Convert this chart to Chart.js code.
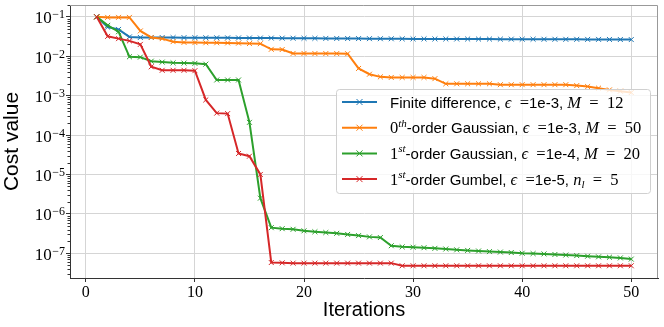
<!DOCTYPE html>
<html>
<head>
<meta charset="utf-8">
<title>Cost value vs iterations</title>
<script src="https://cdn.jsdelivr.net/npm/chart.js@4.4.1/dist/chart.umd.min.js"></script>
<style>
  html, body { margin: 0; padding: 0; background: #fff; }
  canvas { display: block; }
</style>
</head>
<body>
<canvas id="costChart" width="664" height="327"></canvas>
<script>
'use strict';

// values (log scale)
const iterations = [1,2,3,4,5,6,7,8,9,10,11,12,13,14,15,16,17,18,19,20,21,22,23,24,25,
  26,27,28,29,30,31,32,33,34,35,36,37,38,39,40,41,42,43,44,45,46,47,48,49,50];

const finiteDiff = [0.1,0.055,0.048,0.031,0.0300,0.0300,0.0299,0.0298,0.0297,0.0296,
  0.0295,0.0294,0.0293,0.0292,0.0291,0.0290,0.0289,0.0288,0.0287,0.0286,
  0.0285,0.0284,0.0283,0.0282,0.0281,0.0280,0.0279,0.0278,0.0277,0.0276,
  0.0276,0.0275,0.0275,0.0274,0.0274,0.0273,0.0273,0.0272,0.0272,0.0271,
  0.0271,0.0270,0.0270,0.0269,0.0269,0.0268,0.0268,0.0267,0.0266,0.0265];

const gauss0 = [0.1,0.097,0.097,0.097,0.044,0.030,0.028,0.0235,0.0225,0.0222,
  0.022,0.022,0.0218,0.0215,0.021,0.0208,0.015,0.0148,0.0118,0.0118,
  0.0117,0.0117,0.0117,0.0116,0.0049,0.0035,0.0030,0.0029,0.0029,0.0029,
  0.0029,0.0027,0.0020,0.0020,0.0020,0.0020,0.0020,0.0019,0.0019,0.0019,
  0.0019,0.0019,0.0019,0.0019,0.0018,0.0017,0.00155,0.0014,0.0013,0.0012];

const gauss1 = [0.1,0.061,0.042,0.0097,0.0095,0.0075,0.0071,0.0068,0.0067,0.0066,
  0.0063,0.0025,0.0025,0.0025,0.00021,2.5e-6,4.45e-7,4.2e-7,4.05e-7,3.7e-7,
  3.5e-7,3.35e-7,3.2e-7,3.0e-7,2.8e-7,2.6e-7,2.5e-7,1.55e-7,1.45e-7,1.42e-7,
  1.38e-7,1.33e-7,1.28e-7,1.22e-7,1.18e-7,1.14e-7,1.1e-7,1.07e-7,1.04e-7,1.0e-7,
  9.8e-8,9.6e-8,9.3e-8,9.0e-8,8.7e-8,8.4e-8,8.1e-8,7.9e-8,7.6e-8,7.1e-8];

const gumbel1 = [0.1,0.032,0.028,0.0246,0.020,0.0054,0.0044,0.0044,0.0044,0.0043,
  0.00078,0.00036,0.00035,3.4e-5,2.9e-5,1.0e-5,5.8e-8,5.7e-8,5.6e-8,5.6e-8,
  5.6e-8,5.6e-8,5.6e-8,5.6e-8,5.6e-8,5.6e-8,5.6e-8,5.6e-8,4.8e-8,4.8e-8,
  4.8e-8,4.8e-8,4.8e-8,4.8e-8,4.8e-8,4.8e-8,4.8e-8,4.8e-8,4.8e-8,4.8e-8,
  4.8e-8,4.8e-8,4.8e-8,4.8e-8,4.8e-8,4.8e-8,4.8e-8,4.8e-8,4.8e-8,4.8e-8];

const seriesNames = [
  'Finite difference, \u03f5 =1e-3, M = 12',
  '0th-order Gaussian, \u03f5 =1e-3, M = 50',
  '1st-order Gaussian, \u03f5 =1e-4, M = 20',
  '1st-order Gumbel, \u03f5 =1e-5, nl = 5'
];
const xTicks = [0, 10, 20, 30, 40, 50];
const yTickExps = [-7, -6, -5, -4, -3, -2, -1];

// same legend text, split into runs: s=sans, r=roman, i=italic, p=superscript, b=subscript
const EQ = '\u2002=';   // math-style spacing around "="
const legendRich = [
  [['s','Finite difference, '],['i','\u03f5'],['r',EQ],['s','1e-3, '],['i','M'],['r',EQ + '\u200212']],
  [['r','0'],['p','th'],['s','-order Gaussian, '],['i','\u03f5'],['r',EQ],['s','1e-3, '],['i','M'],['r',EQ + '\u200250']],
  [['r','1'],['p','st'],['s','-order Gaussian, '],['i','\u03f5'],['r',EQ],['s','1e-4, '],['i','M'],['r',EQ + '\u200220']],
  [['r','1'],['p','st'],['s','-order Gumbel, '],['i','\u03f5'],['r',EQ],['s','1e-5, '],['i','n'],['b','l'],['r',EQ + '\u20025']]
];

const colors = ['#1f77b4', '#ff7f0e', '#2ca02c', '#d62728'];
const SERIF = '"Liberation Serif", "DejaVu Serif", serif';
const SANS = '"Liberation Sans", Arial, sans-serif';

const runFont = {
  s: '15px ' + SANS,
  r: '16.5px ' + SERIF,
  i: 'italic 16.5px ' + SERIF,
  p: 'italic 11px ' + SERIF,
  b: 'italic 11px ' + SERIF
};
const runShift = { s: 0, r: 0, i: 0, p: -6.5, b: 3 };

function drawCross(ctx, x, y, r){
  ctx.beginPath();
  ctx.moveTo(x - r, y - r); ctx.lineTo(x + r, y + r);
  ctx.moveTo(x - r, y + r); ctx.lineTo(x + r, y - r);
  ctx.stroke();
}

const decorPlugin = {
  id: 'decor',
  afterDraw(chart){
    const { ctx, chartArea: a } = chart;
    const y = chart.scales.y;
    ctx.save();

    // top / right spines
    ctx.strokeStyle = '#999';
    ctx.lineWidth = 1;
    ctx.beginPath();
    ctx.moveTo(a.left, a.top + 0.5);
    ctx.lineTo(a.right - 0.5, a.top + 0.5);
    ctx.lineTo(a.right - 0.5, a.bottom);
    ctx.stroke();

    // minor ticks on the log axis
    ctx.strokeStyle = '#333';
    ctx.beginPath();
    for (let e = -8; e <= -1; e++) {
      for (let m = 2; m <= 9; m++) {
        const v = m * Math.pow(10, e);
        if (v < y.min || v > y.max) continue;
        const py = Math.round(y.getPixelForValue(v)) + 0.5;
        ctx.moveTo(a.left - 2.5, py);
        ctx.lineTo(a.left, py);
      }
    }
    ctx.stroke();

    // y tick labels 10^k
    ctx.fillStyle = '#000';
    ctx.textBaseline = 'alphabetic';
    ctx.textAlign = 'right';
    yTickExps.forEach(e => {
      const py = y.getPixelForValue(Math.pow(10, e));
      const sup = '\u2212' + Math.abs(e);
      ctx.font = '12px ' + SERIF;
      const ws = ctx.measureText(sup).width;
      ctx.fillText(sup, a.left - 5, py + 1.5);
      ctx.font = '17px ' + SERIF;
      ctx.fillText('10', a.left - 5 - ws - 0.5, py + 6.5);
    });

    // legend
    const bx = 336, by = 89, bw = 314, bh = 104;
    ctx.beginPath();
    ctx.roundRect(bx + 0.5, by + 0.5, bw, bh, 3);
    ctx.fillStyle = 'rgba(255,255,255,0.8)';
    ctx.fill();
    ctx.strokeStyle = '#d0d0d0';
    ctx.stroke();

    ctx.textAlign = 'left';
    legendRich.forEach((runs, i) => {
      const ry = 102 + i * 25.7;
      ctx.strokeStyle = colors[i];
      ctx.lineWidth = 2;
      ctx.beginPath();
      ctx.moveTo(342, ry); ctx.lineTo(377, ry);
      ctx.stroke();
      ctx.lineWidth = 1;
      drawCross(ctx, 359.5, ry, 3);

      let tx = 390;
      ctx.fillStyle = '#000';
      runs.forEach(([k, t]) => {
        ctx.font = runFont[k];
        ctx.fillText(t, tx, ry + 5.5 + runShift[k]);
        tx += ctx.measureText(t).width;
      });
    });

    ctx.restore();
  }
};

const series = [finiteDiff, gauss0, gauss1, gumbel1];

new Chart(document.getElementById('costChart'), {
  type: 'line',
  data: {
    datasets: series.map((vals, i) => ({
      label: seriesNames[i],
      data: iterations.map((x, j) => ({ x: x, y: vals[j] })),
      borderColor: colors[i],
      backgroundColor: colors[i],
      borderWidth: 2,
      tension: 0,
      fill: false,
      pointStyle: 'crossRot',
      pointRadius: 3.5,
      pointBorderWidth: 1,
      pointBorderColor: colors[i],
      order: 3 - i
    }))
  },
  options: {
    responsive: false,
    animation: false,
    devicePixelRatio: 1,
    layout: { padding: { top: 5, right: 6, left: 0, bottom: 0 } },
    plugins: { legend: { display: false }, tooltip: { enabled: false } },
    scales: {
      x: {
        type: 'linear',
        min: -1.45,
        max: 52.45,
        afterBuildTicks: s => { s.ticks = xTicks.map(v => ({ value: v })); },
        afterFit: s => { s.height = 49; },
        grid: { color: '#d5d5d5', lineWidth: 1, tickColor: '#333', tickLength: 4 },
        border: { color: '#333', width: 1 },
        ticks: { font: { family: SERIF, size: 16 }, color: '#000', padding: 1, maxRotation: 0 },
        title: { display: true, text: 'Iterations', color: '#000',
                 font: { family: SANS, size: 20 }, padding: { top: 0, bottom: 5 } }
      },
      y: {
        type: 'logarithmic',
        min: 2.35e-8,
        max: 0.2,
        afterBuildTicks: s => { s.ticks = yTickExps.map(e => ({ value: Math.pow(10, e) })); },
        afterFit: s => { s.width = 70; },
        grid: { color: '#d5d5d5', lineWidth: 1, tickColor: '#333', tickLength: 4 },
        border: { color: '#333', width: 1 },
        ticks: { display: false },
        title: { display: true, text: 'Cost value', color: '#000',
                 font: { family: SANS, size: 21 }, padding: { top: 0, bottom: 0 } }
      }
    }
  },
  plugins: [decorPlugin]
});
</script>
</body>
</html>
